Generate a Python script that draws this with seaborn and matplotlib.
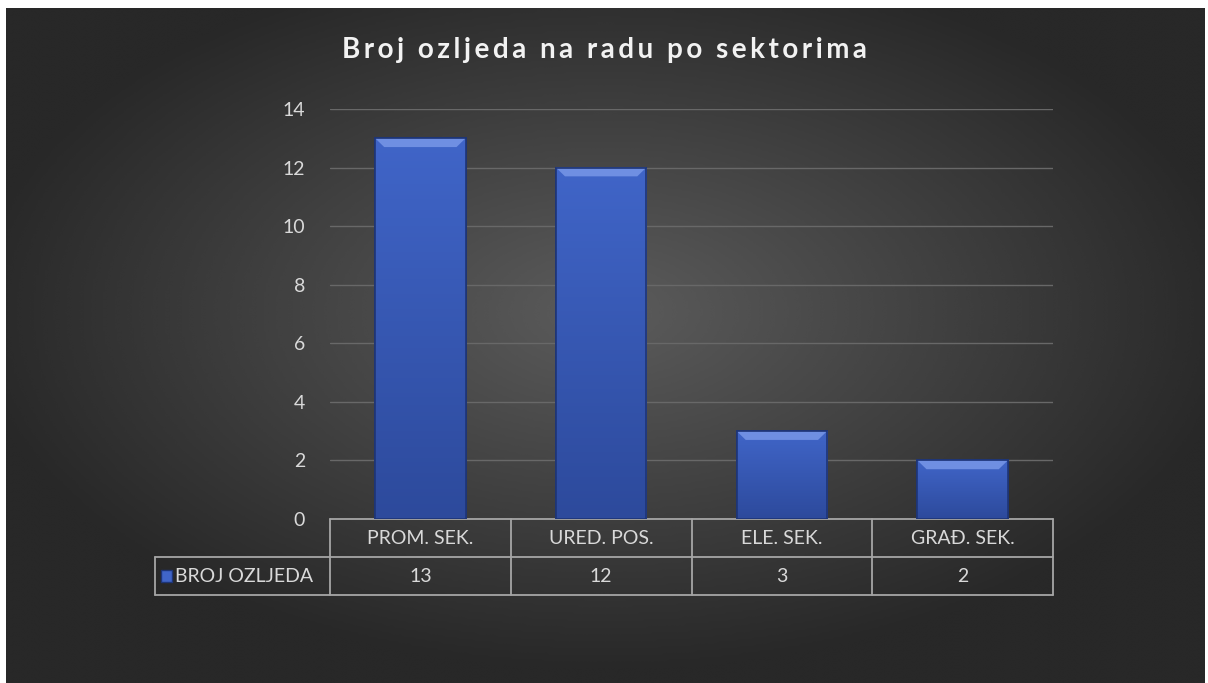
import numpy as np
import pandas as pd
import matplotlib
matplotlib.use("Agg")
import matplotlib.pyplot as plt
import seaborn as sns
from matplotlib.patches import Rectangle, Polygon
from matplotlib.colors import LinearSegmentedColormap

# Data
categories = ["PROM. SEK.", "URED. POS.", "ELE. SEK.", "GRAĐ. SEK."]
values = [13, 12, 3, 2]
series_name = "BROJ OZLJEDA"
title = "Broj ozljeda na radu po sektorima"
y_ticks = [0, 2, 4, 6, 8, 10, 12, 14]

df = pd.DataFrame({"sektor": categories, "broj": values})

sns.set_style("white")
plt.rcParams["font.family"] = ["Lato", "DejaVu Sans"]

txt = "#d9d9d9"
line_col = "#a6a6a6"
bar_col = "#3a5dbd"
bar_grad = LinearSegmentedColormap.from_list("bar", ["#2d4a9c", "#4065c8"])

fig = plt.figure(figsize=(12.08, 6.83), dpi=100, facecolor="white")

# radial gradient background (dark chart area)
bg = fig.add_axes([6 / 1208, 0, 1199 / 1208, 675 / 683])
yy, xx = np.mgrid[-1:1:300j, -1:1:500j]
r = np.sqrt((xx * 0.95) ** 2 + ((yy + 0.1) * 0.95) ** 2)
shade = np.clip(0.36 - 0.2 * r, 0.16, 0.36)
bg.imshow(shade, cmap="gray", vmin=0, vmax=1, aspect="auto",
          extent=[0, 1, 0, 1], interpolation="bicubic")
bg.set_axis_off()

ax = fig.add_axes([330 / 1208, (683 - 519) / 683, 723 / 1208, 410 / 683])
ax.patch.set_alpha(0)
sns.barplot(data=df, x="sektor", y="broj", color=bar_col, width=0.5,
            edgecolor="#1e3577", linewidth=1.2, saturation=1, ax=ax, zorder=3)

ax.set_ylim(0, 14)
ax.set_xlim(-0.5, len(categories) - 0.5)
ax.set_yticks(y_ticks)
ax.set_yticklabels([str(t) for t in y_ticks], color=txt, fontsize=14)
ax.tick_params(axis="y", length=0, pad=18)
ax.set_xticks([])
ax.set_xlabel("")
ax.set_ylabel("")
for s in ax.spines.values():
    s.set_visible(False)
ax.yaxis.grid(True, color="#686868", linewidth=1)
ax.set_axisbelow(True)

# gradient fill and bevelled top on each bar
grad = np.linspace(0, 1, 100).reshape(-1, 1)
for p in list(ax.patches):
    x0, w, h = p.get_x(), p.get_width(), p.get_height()
    im = ax.imshow(grad, cmap=bar_grad, aspect="auto", origin="lower",
                   extent=[x0, x0 + w, 0, h], zorder=3.5)
    im.set_clip_path(p)
    bev = 0.3
    ax.add_patch(Polygon([(x0, h), (x0 + w, h), (x0 + w * 0.9, h - bev),
                          (x0 + w * 0.1, h - bev)], closed=True,
                         color="#6f8fe2", zorder=4, linewidth=0))
    ax.add_patch(Rectangle((x0, 0), w, h, fill=False, ec="#1e3577",
                           lw=1.2, zorder=4.5))
ax.set_xlim(-0.5, len(categories) - 0.5)
ax.set_ylim(0, 14)

# data table below the axis
row_h = 38 / 410
left = -175 / 723
tkw = dict(transform=ax.transAxes, clip_on=False, color=line_col, linewidth=1.3)
ax.plot([0, 1], [0, 0], **tkw)
ax.plot([left, 1], [-row_h, -row_h], **tkw)
ax.plot([left, 1], [-2 * row_h, -2 * row_h], **tkw)
ax.plot([left, left], [-row_h, -2 * row_h], **tkw)
n = len(categories)
for i in range(n + 1):
    ax.plot([i / n, i / n], [0, -2 * row_h], **tkw)
for i, (c, v) in enumerate(zip(categories, values)):
    xc = (i + 0.5) / n
    ax.text(xc, -row_h / 2, c, transform=ax.transAxes, ha="center",
            va="center", color=txt, fontsize=14)
    ax.text(xc, -1.5 * row_h, str(v), transform=ax.transAxes, ha="center",
            va="center", color=txt, fontsize=14)
ax.add_patch(Rectangle((left + 6 / 723, -1.5 * row_h - 6 / 410), 11 / 723, 12 / 410,
                       transform=ax.transAxes, clip_on=False,
                       color="#4065c8", ec="#1e3577"))
ax.text(left + 20 / 723, -1.5 * row_h, series_name, transform=ax.transAxes,
        ha="left", va="center", color=txt, fontsize=14)

spaced = "\u2009".join(title)
fig.text(604 / 1208, 1 - 50 / 683, spaced, ha="center", va="center",
         color="#f2f2f2", fontsize=20, fontweight="bold")

fig.savefig("out.png", dpi=100, facecolor="white")
